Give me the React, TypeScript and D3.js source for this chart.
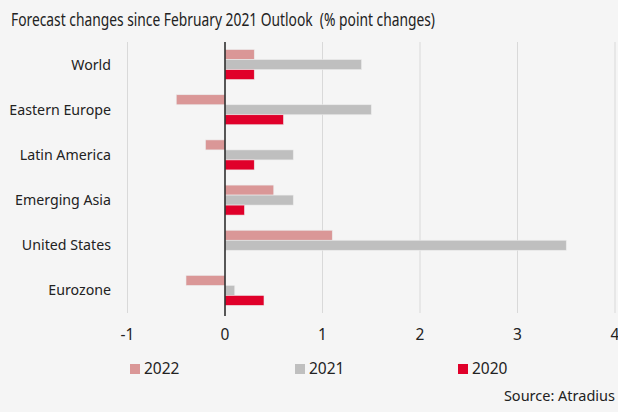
import React from "react";
import * as d3 from "d3";

const categories = ["World", "Eastern Europe", "Latin America", "Emerging Asia", "United States", "Eurozone"];
const seriesNames = ["2022", "2021", "2020"];
const values2022 = [0.3, -0.5, -0.2, 0.5, 1.1, -0.4];
const values2021 = [1.4, 1.5, 0.7, 0.7, 3.5, 0.1];
const values2020 = [0.3, 0.6, 0.3, 0.2, 0, 0.4];
const xTicks = [-1, 0, 1, 2, 3, 4];
const colors = ["#da9797", "#bfbfbf", "#e0002a"];
const title = "Forecast changes since February 2021 Outlook  (% point changes)";
const source = "Source: Atradius";

export default function App() {
  const W = 618, H = 412;
  const x = d3.scaleLinear().domain([-1, 4]).range([127.5, 615]);
  const y = d3.scaleBand().domain(categories).range([42, 313]).paddingInner(0).paddingOuter(0);
  const series = [values2022, values2021, values2020];
  const bh = 10;
  const font = "'Noto Sans', 'Open Sans', sans-serif";
  const legendX = [130, 295, 458];
  return (
    <svg width={W} height={H} style={{ position: "absolute", left: 0, top: 0, background: "#f5f5f5" }} fontFamily={font}>
      <rect x={0} y={0} width={W} height={H} fill="#f5f5f5" />
      <text x={11} y={26} fontSize={18} fill="#222" textLength={424} lengthAdjust="spacingAndGlyphs" style={{ whiteSpace: "pre" }}>{title}</text>
      {xTicks.map((t) => (
        t !== 0 ? <line key={t} x1={x(t)} x2={x(t)} y1={42} y2={313} stroke="#d9d9d9" strokeWidth={1} /> : null
      ))}
      {categories.map((c, i) => {
        const cy = y(c)! + y.bandwidth() / 2;
        return (
          <g key={c}>
            <text x={111} y={cy} dy="0.35em" textAnchor="end" fontSize={14.2} fill="#222">{c}</text>
            {series.map((s, j) => {
              const v = s[i];
              if (v === 0) return null;
              const x0 = x(Math.min(0, v)), x1 = x(Math.max(0, v));
              return <rect key={j} x={x0} y={cy - 15 + j * bh} width={x1 - x0} height={bh} fill={colors[j]} stroke="#ececec" strokeWidth={0.6} />;
            })}
          </g>
        );
      })}
      <line x1={x(0)} x2={x(0)} y1={42} y2={316} stroke="#222" strokeWidth={1.5} />
      {xTicks.map((t) => (
        <text key={t} x={x(t)} y={335} dy="0.35em" textAnchor="middle" fontSize={15.5} fill="#222">{t}</text>
      ))}
      {seriesNames.map((n, j) => (
        <g key={n}>
          <rect x={legendX[j]} y={364} width={10} height={10} fill={colors[j]} />
          <text x={legendX[j] + 14} y={369} dy="0.35em" fontSize={15.5} fill="#222">{n}</text>
        </g>
      ))}
      <text x={615} y={396} dy="0.35em" textAnchor="end" fontSize={14.5} fill="#222">{source}</text>
    </svg>
  );
}
